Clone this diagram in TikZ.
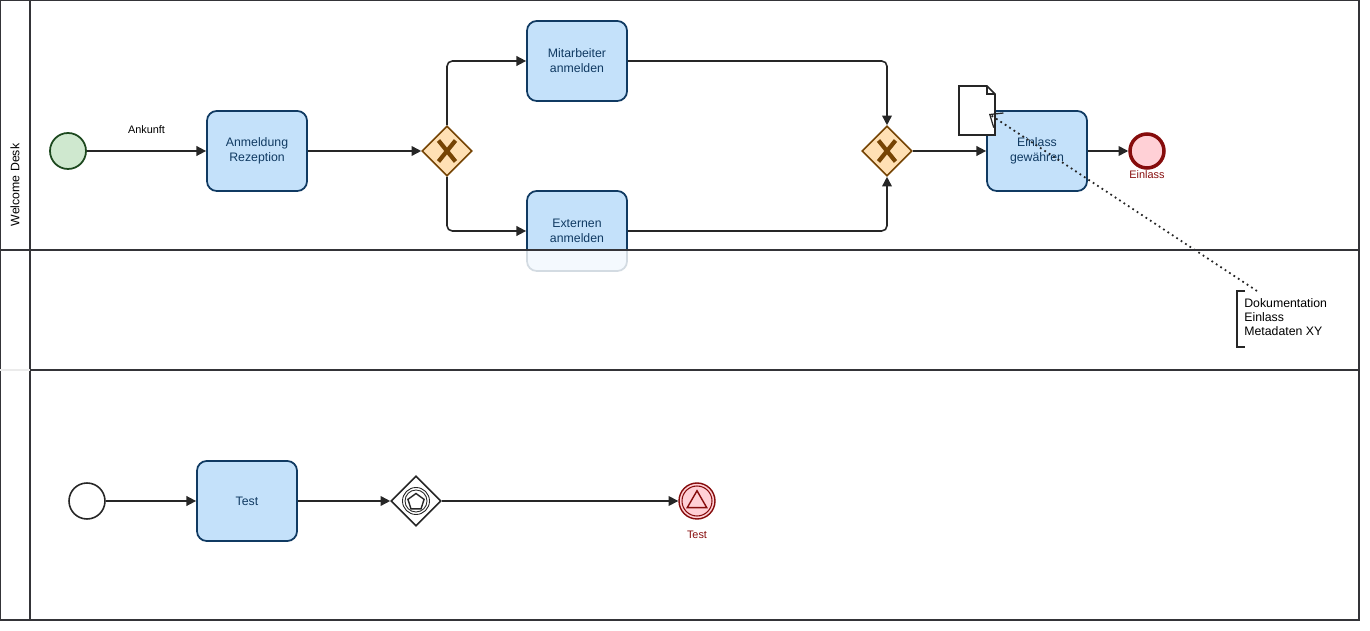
\documentclass[tikz,border=0pt]{standalone}
\usepackage{fontspec}
\setmainfont{Liberation Sans}
\usetikzlibrary{arrows.meta,shapes.geometric}

\definecolor{taskfill}{RGB}{196,225,250}
\definecolor{taskline}{RGB}{16,58,98}
\definecolor{gwfill}{RGB}{255,224,180}
\definecolor{gwline}{RGB}{118,68,4}
\definecolor{startfill}{RGB}{207,232,207}
\definecolor{startline}{RGB}{28,72,30}
\definecolor{endfill}{RGB}{255,208,214}
\definecolor{endline}{RGB}{134,12,12}
\definecolor{laneline}{RGB}{52,52,56}

\tikzset{
  task/.style={draw=taskline, fill=taskfill, line width=1pt, rounded corners=5.5pt,
    minimum width=2cm, minimum height=1.6cm, align=center, text=taskline,
    font=\fontsize{7}{8.6}\selectfont},
  gateway/.style={diamond, draw=gwline, fill=gwfill, line width=0.9pt, minimum width=1cm,
    minimum height=1cm, inner sep=0pt},
  gwcross/.style={gwline, line width=2.4pt},
  startevent/.style={circle, draw=startline, fill=startfill, line width=1pt, minimum size=0.72cm, inner sep=0pt},
  endevent/.style={circle, draw=endline, fill=endfill, line width=2pt, minimum size=0.68cm, inner sep=0pt},
  evlabel/.style={text=endline, font=\fontsize{6.2}{7}\selectfont},
  flow/.style={draw=black!85, line width=0.9pt, -{Triangle[length=5.5pt,width=5.5pt]}, rounded corners=3pt},
}

\begin{document}
\begin{tikzpicture}[x=0.02cm, y=-0.02cm]
  \useasboundingbox (0,0) rectangle (1370,631);

  % --- Lane 1: Welcome Desk ---
  \node[startevent] (start1) at (68,151) {};
  \node[task] (rezeption) at (257,151) {Anmeldung\\Rezeption};
  \node[gateway] (split) at (447,151) {};
  \draw[gwcross] ([shift={(-8.5,-10.5)}]split.center) -- ([shift={(8.5,10.5)}]split.center)
                 ([shift={(-8.5,10.5)}]split.center) -- ([shift={(8.5,-10.5)}]split.center);
  \node[task] (mitarbeiter) at (577,61) {Mitarbeiter\\anmelden};
  \node[task] (externe) at (577,231) {Externen\\anmelden};
  \node[gateway] (join) at (887,151) {};
  \draw[gwcross] ([shift={(-8.5,-10.5)}]join.center) -- ([shift={(8.5,10.5)}]join.center)
                 ([shift={(-8.5,10.5)}]join.center) -- ([shift={(8.5,-10.5)}]join.center);
  \node[task] (einlass) at (1037,151) {Einlass\\gewähren};
  \node[endevent] (end1) at (1147,151) {};
  \node[evlabel, below=-3pt] (end1lbl) at (end1.south) {Einlass};

  % Verbindungen
  \draw[flow] (start1) -- node[above=6pt, font=\fontsize{6.2}{7}\selectfont, text=black] (ankunft) {Ankunft} (rezeption);
  \draw[flow] (rezeption) -- (split);
  \draw[flow] (split.north) |- (mitarbeiter.west);
  \draw[flow] (split.south) |- (externe.west);
  \draw[flow] (mitarbeiter.east) -| (join.north);
  \draw[flow] (externe.east) -| (join.south);
  \draw[flow] (join) -- (einlass);
  \draw[flow] (einlass) -- (end1);

  % Datenobjekt
  \draw[black!85, line width=0.9pt, fill=white] (959,86) -- (987,86) -- (995,94) -- (995,135) -- (959,135) -- cycle;
  \draw[black!85, line width=0.7pt] (987,86) -- (987,94) -- (995,94);
  \node[inner sep=0pt] (dataobj) at (977,110) {};

  % Auslauf der unteren Aufgabe (verblasst)
  \fill[white, opacity=0.82] (524,251.5) rectangle (631,273);

  % Anmerkung
  \node[anchor=north west, align=left, inner sep=0pt, font=\fontsize{7}{8.1}\selectfont] (note) at (1244,298) {Dokumentation\\Einlass\\Metadaten XY};
  \coordinate (notetop) at (1237,291);
  \draw[black!85, line width=0.9pt] (1245,291) -- (notetop) -- (1237,347) -- (1245,347);
  \coordinate (assocend) at (989,114);
  \draw[black!85, line width=1pt, dotted, -{Straight Barb[length=6pt,width=10pt,line width=0.7pt]}] (1257,291) -- (assocend);

  % --- Lane 3 ---
  \node[circle, draw=black!85, fill=white, line width=0.9pt, minimum size=0.72cm, inner sep=0pt] (start3) at (87,501) {};
  \node[task] (test) at (247,501) {Test};
  \node[gateway, draw=black!85, fill=white] (evgw) at (416,501) {};
  \draw[black!85, line width=0.5pt] (evgw.center) circle (13.5) circle (11);
  \node[regular polygon, regular polygon sides=5, draw=black!85, line width=0.8pt, minimum size=0.34cm, inner sep=0pt] (pent) at (416,502) {};
  \node[circle, draw=endline, fill=endfill, line width=0.8pt, minimum size=0.72cm, inner sep=0pt] (end3) at (697,501) {};
  \draw[endline, line width=0.6pt] (end3.center) circle (15);
  \node[regular polygon, regular polygon sides=3, draw=endline, line width=0.8pt, minimum size=0.45cm, inner sep=0pt] (tri) at (697,502) {};
  \node[evlabel, below=3pt] (end3lbl) at (end3.south) {Test};

  \draw[flow] (start3) -- (test);
  \draw[flow] (test) -- (evgw);
  \draw[flow] (evgw) -- (end3);

  % --- Pool und Bahnen ---
  \draw[laneline, line width=0.8pt] (0,0) rectangle (1359,620);
  \draw[laneline, line width=1.4pt] (30,0) -- (30,620);
  \draw[laneline, line width=1.4pt] (0,250) -- (1359,250);
  \draw[laneline, line width=1.4pt] (30,370) -- (1359,370);
  \draw[black!8, line width=0.8pt] (0,370) -- (30,370);
  \node[rotate=90, font=\fontsize{7}{8}\selectfont] (lanename) at (15,185) {Welcome Desk};
\end{tikzpicture}
\end{document}
